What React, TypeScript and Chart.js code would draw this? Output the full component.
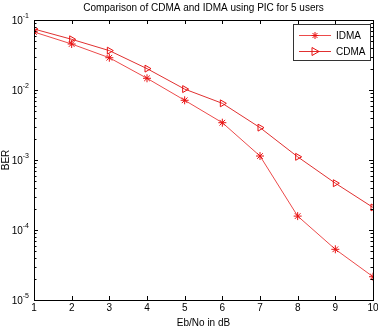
import React, { useEffect, useRef } from "react";
import { Chart, registerables } from "chart.js";

Chart.register(...registerables);

// Eb/No (dB) on the x axis
const ebno = [1, 2, 3, 4, 5, 6, 7, 8, 9, 10];
// Bit error rate for each scheme
const berIDMA = [0.0674, 0.0454, 0.0289, 0.0147, 0.00713, 0.00341, 0.00114, 1.58e-4, 5.3e-5, 2.15e-5];
const berCDMA = [0.0743, 0.053, 0.0365, 0.0202, 0.0103, 0.00645, 0.0029, 0.00111, 4.66e-4, 2.1e-4];
// Decade exponents shown on the y axis
const yExponents = [-1, -2, -3, -4, -5];

const titleText = "Comparison of CDMA and IDMA using PIC for 5 users";
const xTitle = "Eb/No in dB";
const yTitle = "BER";
const seriesNames = ["IDMA", "CDMA"];

const FONT = "'Liberation Sans', Arial, Helvetica, sans-serif";
const colIDMA = "#ec4a4a";
const colCDMA = "#e03030";

const framePlugin = {
  id: "matlabFrame",
  afterDraw(chart: any) {
    const { ctx, chartArea, scales } = chart;
    const { left, right, top, bottom } = chartArea;
    const xs = scales.x;
    const ys = scales.y;
    ctx.save();
    ctx.strokeStyle = "#000";
    ctx.lineWidth = 1;
    ctx.strokeRect(Math.round(left) + 0.5, Math.round(top) + 0.5, Math.round(right - left), Math.round(bottom - top));

    // x ticks, inward on top and bottom
    ctx.beginPath();
    for (const v of ebno) {
      const px = Math.round(xs.getPixelForValue(v)) + 0.5;
      ctx.moveTo(px, bottom);
      ctx.lineTo(px, bottom - 4);
      ctx.moveTo(px, top);
      ctx.lineTo(px, top + 4);
    }
    // y ticks: majors and log minors, inward on both sides
    for (const e of yExponents) {
      for (let m = 1; m <= 9; m++) {
        const v = m * Math.pow(10, e);
        if (v > 0.1 + 1e-12) continue;
        const py = Math.round(ys.getPixelForValue(v)) + 0.5;
        const len = m === 1 ? 4 : 2.5;
        ctx.moveTo(left, py);
        ctx.lineTo(left + len, py);
        ctx.moveTo(right, py);
        ctx.lineTo(right - len, py);
      }
    }
    ctx.stroke();

    // y tick labels with superscript exponent
    ctx.fillStyle = "#000";
    ctx.textBaseline = "middle";
    for (const e of yExponents) {
      const py = ys.getPixelForValue(Math.pow(10, e));
      const exp = String(e);
      ctx.font = `7px ${FONT}`;
      const ew = ctx.measureText(exp).width;
      ctx.textAlign = "left";
      const xr = left - 5;
      ctx.fillText(exp, xr - ew, py - 4);
      ctx.font = `10px ${FONT}`;
      ctx.textAlign = "right";
      ctx.fillText("10", xr - ew, py + 1);
    }

    // titles
    ctx.font = `10px ${FONT}`;
    ctx.textAlign = "center";
    ctx.fillStyle = "#000";
    ctx.fillText(titleText, (left + right) / 2, 8);
    ctx.fillText(xTitle, (left + right) / 2, 323);
    ctx.save();
    ctx.translate(6, (top + bottom) / 2);
    ctx.rotate(-Math.PI / 2);
    ctx.fillText(yTitle, 0, 0);
    ctx.restore();

    // legend
    const bx = 293, by = 24, bw = 77, bh = 36;
    ctx.fillStyle = "#fff";
    ctx.fillRect(bx, by, bw, bh);
    ctx.strokeStyle = "#333";
    ctx.strokeRect(bx + 0.5, by + 0.5, bw, bh);
    const rows = [
      { name: seriesNames[0], y: by + 11, color: colIDMA, marker: "star" },
      { name: seriesNames[1], y: by + 27, color: colCDMA, marker: "tri" },
    ];
    for (const r of rows) {
      ctx.strokeStyle = r.color;
      ctx.lineWidth = 1;
      ctx.beginPath();
      ctx.moveTo(bx + 6, r.y + 0.5);
      ctx.lineTo(bx + 38, r.y + 0.5);
      ctx.stroke();
      const cx = bx + 22;
      ctx.strokeStyle = "#e81010";
      ctx.beginPath();
      if (r.marker === "star") {
        for (let k = 0; k < 4; k++) {
          const a = (k * Math.PI) / 4;
          ctx.moveTo(cx - 3.5 * Math.cos(a), r.y + 0.5 - 3.5 * Math.sin(a));
          ctx.lineTo(cx + 3.5 * Math.cos(a), r.y + 0.5 + 3.5 * Math.sin(a));
        }
      } else {
        ctx.moveTo(cx - 3, r.y - 3.5);
        ctx.lineTo(cx + 4, r.y + 0.5);
        ctx.lineTo(cx - 3, r.y + 4.5);
        ctx.closePath();
      }
      ctx.stroke();
      ctx.fillStyle = "#000";
      ctx.font = `10px ${FONT}`;
      ctx.textAlign = "left";
      ctx.fillText(r.name, bx + 43, r.y + 1);
    }
    ctx.restore();
  },
};

export default function App() {
  const ref = useRef<HTMLCanvasElement | null>(null);
  useEffect(() => {
    if (!ref.current) return;
    const chart = new Chart(ref.current, {
      type: "line",
      data: {
        labels: ebno,
        datasets: [
          {
            label: seriesNames[0],
            data: ebno.map((x, i) => ({ x, y: berIDMA[i] })),
            borderColor: colIDMA,
            borderWidth: 1,
            pointStyle: "star",
            pointRadius: 4,
            pointBorderColor: "#e81010",
            pointBorderWidth: 1,
            pointBackgroundColor: "transparent",
            tension: 0,
          },
          {
            label: seriesNames[1],
            data: ebno.map((x, i) => ({ x, y: berCDMA[i] })),
            borderColor: colCDMA,
            borderWidth: 1,
            pointStyle: "triangle",
            pointRotation: 90,
            pointRadius: 4,
            pointBorderColor: "#e81010",
            pointBorderWidth: 1,
            pointBackgroundColor: "transparent",
            tension: 0,
          },
        ],
      },
      options: {
        animation: false,
        responsive: false,
        events: [],
        layout: { padding: { left: 0, right: 5, top: 20, bottom: 0 } },
        plugins: { legend: { display: false }, title: { display: false }, tooltip: { enabled: false } },
        scales: {
          x: {
            type: "linear",
            min: 1,
            max: 10,
            grid: { display: false, drawTicks: false },
            border: { display: false },
            ticks: { stepSize: 1, padding: 2, color: "#000", font: { family: FONT, size: 10 } },
            afterFit: (s: any) => {
              s.height = 36;
              s.paddingLeft = 0;
              s.paddingRight = 0;
            },
          },
          y: {
            type: "logarithmic",
            min: 1e-5,
            max: 1e-1,
            grid: { display: false, drawTicks: false },
            border: { display: false },
            ticks: { display: false },
            afterFit: (s: any) => {
              s.width = 34;
              s.paddingTop = 0;
              s.paddingBottom = 0;
            },
          },
        },
      },
      plugins: [framePlugin],
    });
    return () => chart.destroy();
  }, []);
  return (
    <div style={{ position: "fixed", left: 0, top: 0, width: 378, height: 336, background: "#fff" }}>
      <canvas ref={ref} width={378} height={336} style={{ width: 378, height: 336 }} />
    </div>
  );
}
